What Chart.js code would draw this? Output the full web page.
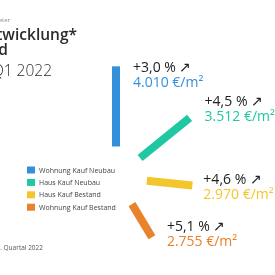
<!DOCTYPE html>
<html>
<head>
<meta charset="utf-8">
<script src="https://cdn.jsdelivr.net/npm/chart.js@4/dist/chart.umd.min.js"></script>
<style>
  html, body { margin: 0; padding: 0; background: #fff; }
  #wrap { width: 275px; height: 275px; position: relative; }
</style>
</head>
<body>
<div id="wrap"><canvas id="chart"></canvas></div>
<script>
// data
const categories = ['Wohnung Kauf Neubau', 'Haus Kauf Neubau', 'Haus Kauf Bestand', 'Wohnung Kauf Bestand'];
const prices = [4010, 3512, 2970, 2755];       // €/m²
const changes = [3.0, 4.5, 4.6, 5.1];          // % vs. Vorjahr
const angles = [-90, -39, 6, 59];              // direction of each ray, degrees

const colors = ['#3590dc', '#1fc8a3', '#f4c62e', '#e8822b'];
const FONT = '"Open Sans", sans-serif';

// radial geometry (chart units = px from the hub)
const hub = { x: 116, y: 177.5 };
const innerR = 31;
const radius = v => -21.4 + 0.03306 * v;

function ray(i) {
  const a = angles[i] * Math.PI / 180;
  const r1 = radius(prices[i]);
  return [
    { x: innerR * Math.cos(a), y: -innerR * Math.sin(a) },
    { x: r1 * Math.cos(a), y: -r1 * Math.sin(a) }
  ];
}

const de1 = n => n.toLocaleString('de-DE', { minimumFractionDigits: 1, maximumFractionDigits: 1 });
const de0 = n => n.toLocaleString('de-DE');

// label offsets from the outer end of each ray
const labelOff = [[17, 2], [15, -16], [11, -5.5], [15, -10]];

const textPlugin = {
  id: 'texts',
  afterDraw(chart) {
    const ctx = chart.ctx;
    ctx.save();
    ctx.textBaseline = 'alphabetic';

    // headline, cut off on the left like the source
    ctx.textAlign = 'right';
    ctx.fillStyle = '#8a8a8a';
    ctx.font = '6px ' + FONT;
    ctx.fillText('Quelle: Preisbarometer', 10, 22);
    ctx.fillStyle = '#2b2b2b';
    ctx.font = '600 15.5px ' + FONT;
    ctx.fillText('Preisentwicklung*', 77, 40);
    ctx.fillText('Deutschland', 8, 55);
    ctx.font = '300 15.5px ' + FONT;
    ctx.fillText('Q1 2021 – Q1 2022', 52, 76);
    ctx.fillStyle = '#555';
    ctx.font = '6.5px ' + FONT;
    ctx.fillText('* Angebotspreise 1. Quartal 2022', 43, 250);

    // legend
    ctx.textAlign = 'left';
    ctx.textBaseline = 'middle';
    categories.forEach((c, i) => {
      const y = 170 + i * 12.4;
      ctx.fillStyle = colors[i];
      ctx.fillRect(27, y - 3.5, 8, 7);
      ctx.fillStyle = '#444';
      ctx.font = '7px ' + FONT;
      ctx.fillText(c, 39, y + 0.5);
    });

    // value labels next to each ray
    chart.data.datasets.forEach((ds, i) => {
      const end = chart.getDatasetMeta(i).data[1];
      const x = end.x + labelOff[i][0];
      const y = end.y + labelOff[i][1];
      ctx.fillStyle = '#222';
      ctx.font = '14px ' + FONT;
      ctx.fillText('+' + de1(changes[i]) + ' % ↗', x, y);
      ctx.fillStyle = colors[i];
      ctx.fillText(de0(prices[i]) + ' €/m²', x, y + 15);
    });
    ctx.restore();
  }
};

new Chart(document.getElementById('chart'), {
  type: 'scatter',
  data: {
    datasets: categories.map((c, i) => ({
      label: c,
      data: ray(i),
      showLine: true,
      borderColor: colors[i],
      borderWidth: 8,
      borderCapStyle: 'butt',
      pointRadius: 0,
      clip: false
    }))
  },
  options: {
    responsive: true,
    maintainAspectRatio: false,
    animation: false,
    layout: { padding: 0 },
    plugins: { legend: { display: false }, tooltip: { enabled: false } },
    scales: {
      x: { type: 'linear', display: false, min: -hub.x, max: 275 - hub.x },
      y: { type: 'linear', display: false, min: -(275 - hub.y), max: hub.y }
    }
  },
  plugins: [textPlugin]
});
</script>
</body>
</html>
